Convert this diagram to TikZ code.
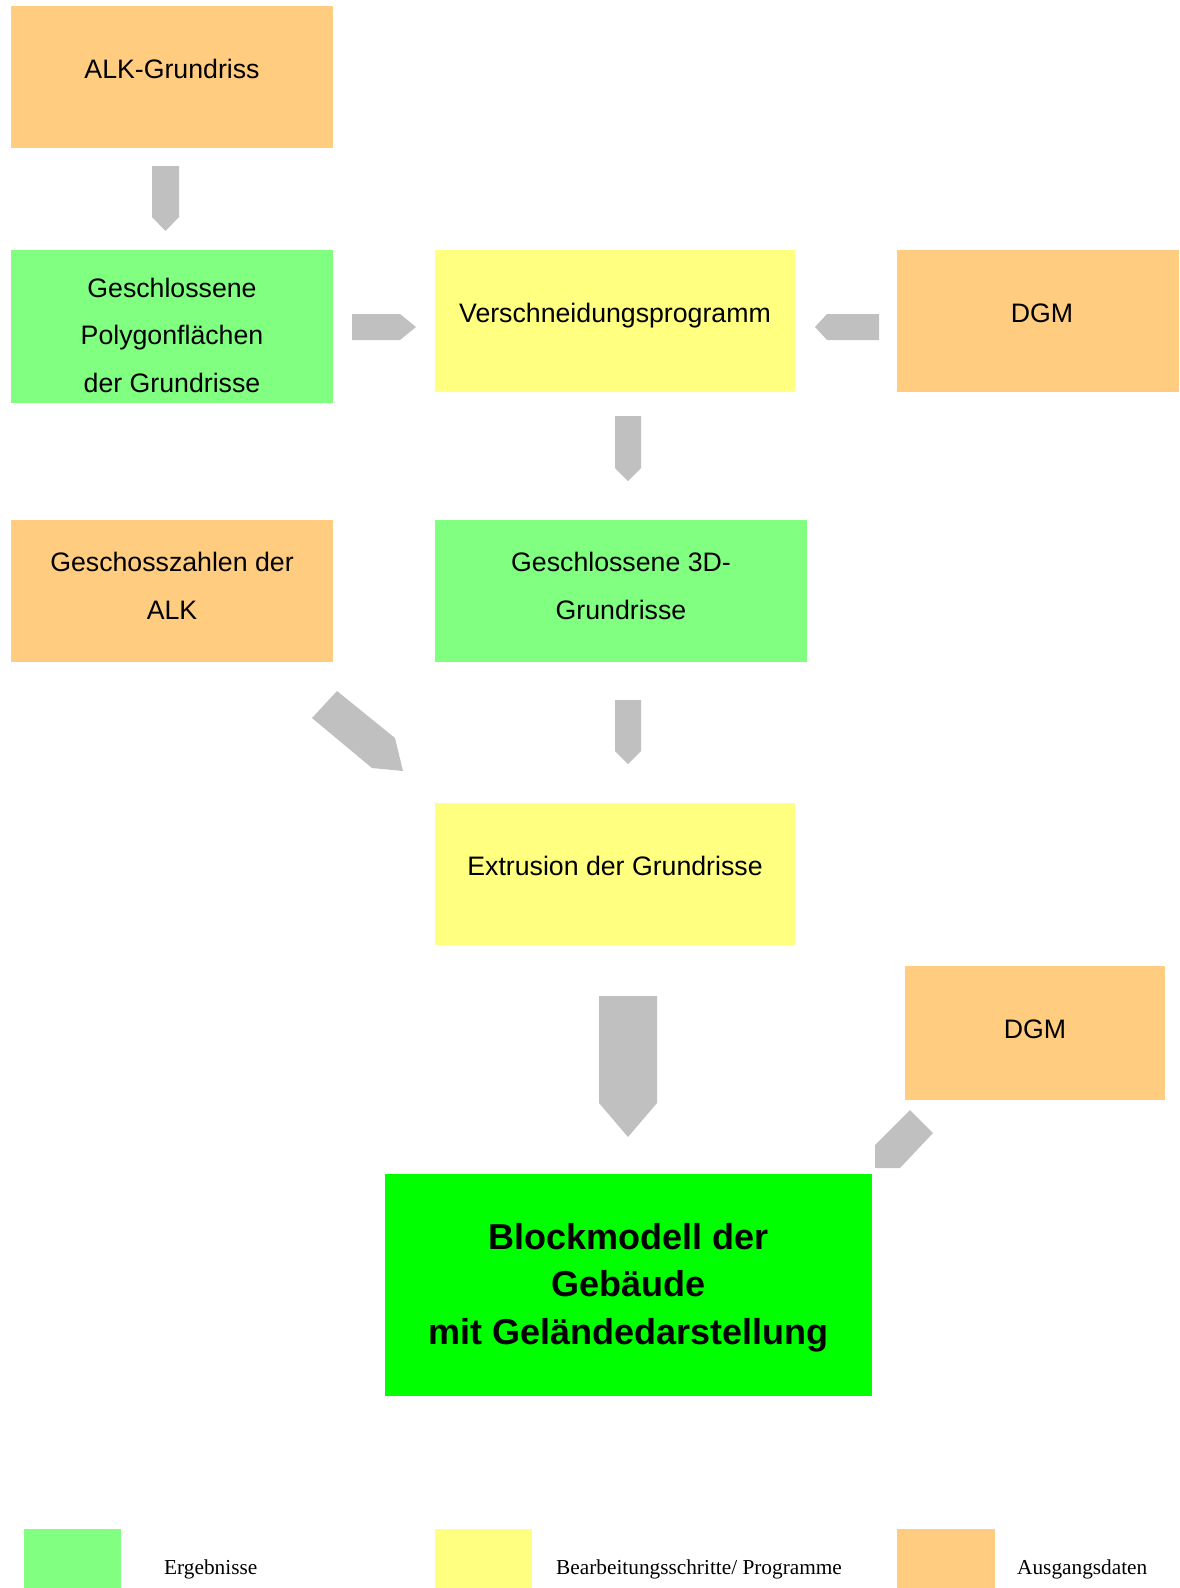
\documentclass[tikz,border=0pt]{standalone}
\usepackage{fontspec}
\setmainfont{Liberation Sans}
\newfontfamily\legendfont{Liberation Serif}
\definecolor{cOrange}{RGB}{255,204,128}
\definecolor{cLGreen}{RGB}{128,255,128}
\definecolor{cYellow}{RGB}{255,255,128}
\definecolor{cGreen}{RGB}{0,255,0}
\definecolor{cGray}{RGB}{192,192,192}
\tikzset{
  box/.style={fill=#1, draw=none, anchor=north west, inner sep=0pt, outer sep=0pt},
  txt/.style={anchor=base, inner sep=0pt, font=\fontsize{26.7}{32}\selectfont},
  btxt/.style={anchor=base, inner sep=0pt, font=\fontsize{36}{43}\selectfont\bfseries},
  ltxt/.style={anchor=base west, inner sep=0pt, font=\legendfont\fontsize{21.3}{25}\selectfont},
  blockarrow/.style={fill=cGray, draw=none}
}
\begin{document}
\begin{tikzpicture}[x=1pt,y=-1pt]
\useasboundingbox (0,0) rectangle (1179,1588);
% boxes
\node[box=cOrange, minimum width=322pt, minimum height=142pt] (alk) at (11,6) {};
\node[box=cLGreen, minimum width=322pt, minimum height=153pt] (poly) at (11,250) {};
\node[box=cYellow, minimum width=360pt, minimum height=142pt] (versch) at (435,250) {};
\node[box=cOrange, minimum width=282pt, minimum height=142pt] (dgma) at (897,250) {};
\node[box=cOrange, minimum width=322pt, minimum height=142pt] (gesch) at (11,520) {};
\node[box=cLGreen, minimum width=372pt, minimum height=142pt] (gdrei) at (435,520) {};
\node[box=cYellow, minimum width=360pt, minimum height=142pt] (extr) at (435,803) {};
\node[box=cOrange, minimum width=260pt, minimum height=134pt] (dgmb) at (905,966) {};
\node[box=cGreen, minimum width=487pt, minimum height=222pt] (block) at (385,1174) {};
% texts
\node[txt] (talk) at (172,78.5) {ALK-Grundriss};
\node[txt] (tpolya) at (172,297.2) {Geschlossene};
\node[txt] (tpolyb) at (172,344.8) {Polygonfl\"achen};
\node[txt] (tpolyc) at (172,392.3) {der Grundrisse};
\node[txt] (tversch) at (615,322) {Verschneidungsprogramm};
\node[txt] (tdgma) at (1042,322) {DGM};
\node[txt] (tgescha) at (172,571.7) {Geschosszahlen der};
\node[txt] (tgeschb) at (172,619.3) {ALK};
\node[txt] (tgdreia) at (621,571.7) {Geschlossene 3D-};
\node[txt] (tgdreib) at (621,619.3) {Grundrisse};
\node[txt] (textr) at (615,875.2) {Extrusion der Grundrisse};
\node[txt] (tdgmb) at (1035,1038.2) {DGM};
\node[btxt] (tblocka) at (628.5,1249) {Blockmodell der};
\node[btxt] (tblockb) at (628.5,1296.7) {Geb\"aude};
\node[btxt] (tblockc) at (628.5,1344.3) {mit Gel\"andedarstellung};
% block arrows
\fill[blockarrow] (152,166) -- (179,166) -- (179,217) -- (165.5,231) -- (152,217) -- cycle;
\fill[blockarrow] (352,314) -- (400,314) -- (416,327) -- (400,340) -- (352,340) -- cycle;
\fill[blockarrow] (879,314) -- (827,314) -- (815,327) -- (827,340) -- (879,340) -- cycle;
\fill[blockarrow] (615,416) -- (641,416) -- (641,468) -- (628,481) -- (615,468) -- cycle;
\fill[blockarrow] (615,700) -- (641,700) -- (641,751) -- (628,764) -- (615,751) -- cycle;
\fill[blockarrow] (337,691) -- (395,738) -- (403,771) -- (372,768) -- (312,718) -- cycle;
\fill[blockarrow] (599,996) -- (657,996) -- (657,1103) -- (628,1137) -- (599,1103) -- cycle;
\fill[blockarrow] (910,1110) -- (933,1133) -- (900,1168) -- (875,1168) -- (875,1145) -- cycle;
% legend
\node[box=cLGreen, minimum width=97pt, minimum height=59pt] (lga) at (24,1529) {};
\node[box=cYellow, minimum width=97pt, minimum height=59pt] (lgb) at (435,1529) {};
\node[box=cOrange, minimum width=98pt, minimum height=59pt] (lgc) at (897,1529) {};
\node[ltxt] (lta) at (164,1574) {Ergebnisse};
\node[ltxt] (ltb) at (556,1574) {Bearbeitungsschritte/ Programme};
\node[ltxt] (ltc) at (1017,1574) {Ausgangsdaten};
\end{tikzpicture}
\end{document}
